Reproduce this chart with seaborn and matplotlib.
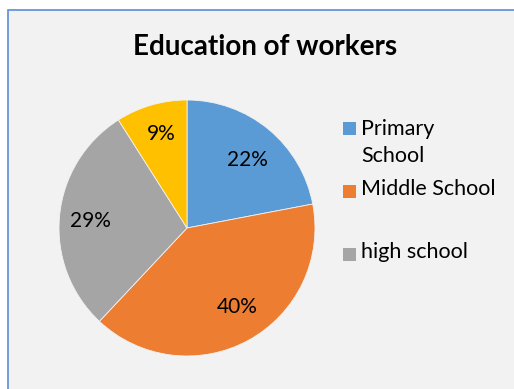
import matplotlib
matplotlib.use("Agg")
import matplotlib.pyplot as plt
from matplotlib.patches import Rectangle
import numpy as np
import seaborn as sns

sns.set_theme(style="white")
plt.rcParams["font.family"] = ["Lato", "DejaVu Sans"]

# Share of workers by education level
categories = ["Primary\nSchool", "Middle School", "high school", ""]
shares = [22, 40, 29, 9]
colors = ["#5B9BD5", "#ED7D31", "#A5A5A5", "#FFC000"]

# Per-slice label placement: distance from centre and angular nudge (degrees)
label_radius = [0.71, 0.73, 0.76, 0.76]
label_nudge = [-2, 4, 1, -1]

W, H = 514, 389
fig = plt.figure(figsize=(W / 100, H / 100), dpi=100, facecolor="white")

def fx(px):
    return px / W

def fy(py):
    return 1 - py / H

# Chart area panel
fig.patches.append(Rectangle((fx(8), fy(H + 20)), fx(W + 20), (H + 10) / H,
                             transform=fig.transFigure, facecolor="#F2F2F2",
                             edgecolor="#5B8ED6", linewidth=1.2, zorder=-5))

cx, cy, r = 187, 228, 128
ax = fig.add_axes([fx(cx - r), fy(cy + r), 2 * r / W, 2 * r / H])
ax.set_facecolor("none")
ax.set_zorder(3)
wedges, texts, autotexts = ax.pie(
    shares, colors=colors, startangle=90, counterclock=False,
    autopct=lambda p: f"{p:.0f}%", pctdistance=0.72,
    wedgeprops=dict(linewidth=0.6, edgecolor="#F2F2F2"),
    textprops=dict(fontsize=15, color="black"))
ax.set_xlim(-1, 1)
ax.set_ylim(-1, 1)
ax.set_aspect("equal")
ax.axis("off")

for w, t, d, n in zip(wedges, autotexts, label_radius, label_nudge):
    mid = np.deg2rad((w.theta1 + w.theta2) / 2 + n)
    t.set_position((d * np.cos(mid), d * np.sin(mid)))

fig.text(fx(265), fy(47), "Education of workers", ha="center", va="center",
         fontsize=20, fontweight="bold", color="black")

# Legend entries: (category index, square centre y, text centre y)
legend_rows = [(1, 191, 189), (2, 254, 252)]
fig.patches.append(Rectangle((fx(343), fy(128.5 + 6.5)), fx(13), 13 / H,
                             transform=fig.transFigure,
                             facecolor=colors[0], edgecolor="none", zorder=2))
fig.text(fx(361), fy(129), "Primary", ha="left", va="center", fontsize=15.5, color="black")
fig.text(fx(361), fy(156), "School", ha="left", va="center", fontsize=15.5, color="black")
for idx, sy, ty in legend_rows:
    fig.patches.append(Rectangle((fx(343), fy(sy + 6.5)), fx(13), 13 / H,
                                 transform=fig.transFigure,
                                 facecolor=colors[idx], edgecolor="none", zorder=2))
    fig.text(fx(361), fy(ty), categories[idx], ha="left", va="center",
             fontsize=15.5, color="black")

fig.savefig("out.png", dpi=100, facecolor="white")
